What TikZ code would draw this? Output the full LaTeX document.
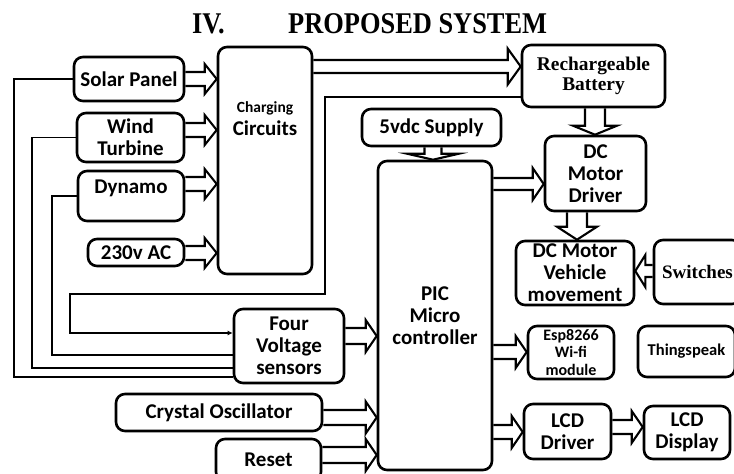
\documentclass[tikz,border=0pt]{standalone}
\usepackage{fontspec}
\newfontfamily\calfont{Carlito}
\newfontfamily\tnrfont{Liberation Serif}
\usetikzlibrary{calc,arrows.meta}
\tikzset{
  box/.style={draw, line width=2.6pt, rounded corners=9pt, inner sep=0pt, align=center,
    font=\calfont\bfseries\fontsize{21}{22}\selectfont},
  serifbox/.style={box, font=\tnrfont\bfseries\fontsize{19.4}{20.5}\selectfont},
  txt/.style={inner sep=0pt, align=center, font=\calfont\bfseries\fontsize{21}{22}\selectfont},
  blk/.style={draw, line width=2.1pt, line join=miter},
  wire/.style={draw, line width=1.8pt},
}
% horizontal block arrow: from #1.east to #2.west at height #3; shaft half width #4, head half width #5, head length #6
\newcommand\HArr[6]{%
  \draw[blk] let \p1=(#1.east), \p2=(#2.west), \p3=(0,#3) in
    (\x1,\y3+#4pt) -- (\x2-#6pt,\y3+#4pt) -- (\x2-#6pt,\y3+#5pt) -- (\x2,\y3)
    -- (\x2-#6pt,\y3-#5pt) -- (\x2-#6pt,\y3-#4pt) -- (\x1,\y3-#4pt);}
% leftward block arrow: from #1.west to #2.east
\newcommand\LArr[6]{%
  \draw[blk] let \p1=(#1.west), \p2=(#2.east), \p3=(0,#3) in
    (\x1,\y3+#4pt) -- (\x2+#6pt,\y3+#4pt) -- (\x2+#6pt,\y3+#5pt) -- (\x2,\y3)
    -- (\x2+#6pt,\y3-#5pt) -- (\x2+#6pt,\y3-#4pt) -- (\x1,\y3-#4pt);}
% downward block arrow: from #1.south to #2.north at x #3
\newcommand\VArr[6]{%
  \draw[blk] let \p1=(#1.south), \p2=(#2.north), \p3=(#3,0) in
    (\x3-#4pt,\y1) -- (\x3-#4pt,\y2+#6pt) -- (\x3-#5pt,\y2+#6pt) -- (\x3,\y2)
    -- (\x3+#5pt,\y2+#6pt) -- (\x3+#4pt,\y2+#6pt) -- (\x3+#4pt,\y1);}
\begin{document}
\begin{tikzpicture}[x=1pt,y=-1pt]
\useasboundingbox (0,0) rectangle (734,474);
\fill[white] (0,0) rectangle (734,474);

% title
\node[anchor=base west, inner sep=0pt, font=\tnrfont\bfseries\fontsize{26.4}{30}\selectfont] (t1) at (192,33) {\scalebox{1}[1.14]{IV.}};
\node[anchor=base west, inner sep=0pt, font=\tnrfont\bfseries\fontsize{26.4}{30}\selectfont] (t2) at (288,33) {\scalebox{1}[1.14]{PROPOSED SYSTEM}};

% boxes
\node[box, minimum width=110pt, minimum height=44pt] (sp) at (129,79) {Solar Panel};
\node[box, minimum width=107pt, minimum height=49pt] (wt) at (130.5,137.5) {Wind\\Turbine};
\node[box, minimum width=106pt, minimum height=50pt] (dy) at (131,196) {};
\node[txt] (dyt) at (131,188) {Dynamo};
\node[box, minimum width=96pt, minimum height=27pt] (ac) at (136,252.5) {230v AC};
\node[box, minimum width=94pt, minimum height=227pt] (cc) at (265,160.5) {};
\node[txt, font=\calfont\bfseries\fontsize{15.5}{16}\selectfont] (cct1) at (265,108) {Charging};
\node[txt] (cct2) at (265,128) {Circuits};
\node[serifbox, minimum width=143pt, minimum height=62pt] (rb) at (593.5,76) {Rechargeable\\Battery};
\node[box, minimum width=139pt, minimum height=37pt] (fv) at (431.5,127.5) {5vdc Supply};
\node[box, minimum width=114pt, minimum height=309pt] (pic) at (435,315.5) {PIC\\Micro\\controller};
\node[box, minimum width=101pt, minimum height=75pt] (md) at (595.5,173.5) {DC\\Motor\\Driver};
\node[box, minimum width=118pt, minimum height=64pt] (mv) at (575,273) {DC Motor\\Vehicle\\movement};
\node[serifbox, font=\tnrfont\bfseries\fontsize{19}{20}\selectfont, minimum width=87pt, minimum height=64pt] (sw) at (697.5,272) {Switches};
\node[box, font=\calfont\bfseries\fontsize{16}{17.5}\selectfont, minimum width=86pt, minimum height=53pt] (es) at (571,352.5) {Esp8266\\Wi-fi\\module};
\node[box, font=\calfont\bfseries\fontsize{16.5}{18}\selectfont, minimum width=97pt, minimum height=51pt] (ts) at (686.5,351.5) {Thingspeak};
\node[box, minimum width=87pt, minimum height=55pt] (ld) at (567.5,431.5) {LCD\\Driver};
\node[box, minimum width=86pt, minimum height=53pt] (lp) at (687,432.5) {LCD\\Display};
\node[box, minimum width=110pt, minimum height=74pt] (vs) at (289,346) {Four\\Voltage\\sensors};
\node[box, minimum width=206pt, minimum height=37pt] (co) at (219,412.5) {Crystal Oscillator};
\node[box, minimum width=105pt, minimum height=42pt] (rs) at (268.5,460) {Reset};

% block arrows
\HArr{sp}{cc}{79}{7}{15}{12}
\HArr{wt}{cc}{130}{7}{15}{12}
\HArr{dy}{cc}{184}{7}{15}{12}
\HArr{ac}{cc}{253}{7}{15}{12}
\HArr{cc}{rb}{66.5}{6.5}{18}{13}
\HArr{pic}{md}{184}{6}{16}{11}
\HArr{pic}{es}{352}{7}{16}{11}
\HArr{pic}{ld}{432}{7}{16}{11}
\HArr{ld}{lp}{427}{7}{16}{11}
\HArr{vs}{pic}{336}{8}{16}{11}
\HArr{co}{pic}{417.5}{7.5}{16}{11}
\HArr{rs}{pic}{455}{8}{16}{11}
\LArr{sw}{mv}{271}{6}{16}{10}
\VArr{rb}{md}{595}{10}{22}{9}
\VArr{fv}{pic}{433}{8.5}{26}{6}
\VArr{md}{mv}{577}{10}{20}{13}

% sensing wires
\draw[wire] (sp.west) -- (14,79) -- (14,377) -- (vs.west |- 0,377);
\draw[wire] (wt.west) -- (32,137.5) -- (32,368) -- (vs.west |- 0,368);
\draw[wire] (dy.west) -- (52,196) -- (52,355) -- (vs.west |- 0,355);
\draw[wire, -{Latex[length=5pt,width=5pt]}] (rb.west |- 0,97) -- (325,97) -- (325,294) -- (70,294) -- (70,333) -- (vs.west |- 0,333);
\end{tikzpicture}
\end{document}
